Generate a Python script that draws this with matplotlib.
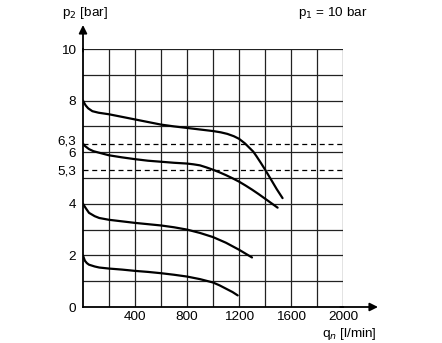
import numpy as np
import matplotlib
matplotlib.use("Agg")
import matplotlib.pyplot as plt
from matplotlib.transforms import ScaledTranslation

plt.rcParams['font.family'] = ['Liberation Sans', 'DejaVu Sans']

# flow characteristic curves, p1 = 10 bar, flow in l/min, p2 in bar
flow_8 = [0, 8, 21, 40, 72, 120, 200, 300, 400, 500, 600, 700, 800, 900, 1000, 1060,
          1110, 1160, 1200, 1246, 1284, 1310, 1335, 1370, 1400, 1425, 1450, 1490, 1535]
p2_8 = [8.0, 7.92, 7.81, 7.7, 7.59, 7.53, 7.47, 7.37, 7.27, 7.17, 7.07, 7.0, 6.94, 6.88, 6.82, 6.77,
        6.71, 6.62, 6.52, 6.34, 6.15, 6.02, 5.84, 5.57, 5.33, 5.12, 4.91, 4.57, 4.22]

flow_63 = [0, 15, 46, 80, 124, 200, 300, 400, 500, 600, 700, 800, 850, 900, 950, 1000,
           1050, 1100, 1150, 1200, 1250, 1300, 1350, 1400, 1450, 1497]
p2_63 = [6.33, 6.24, 6.12, 6.04, 5.98, 5.88, 5.8, 5.73, 5.67, 5.63, 5.59, 5.56, 5.53, 5.49, 5.41, 5.32,
         5.22, 5.11, 4.99, 4.86, 4.71, 4.55, 4.38, 4.2, 4.02, 3.85]

flow_4 = [0, 10, 20, 46, 90, 125, 200, 300, 400, 500, 600, 700, 800, 900, 1000, 1100, 1200, 1250, 1300]
p2_4 = [4.0, 3.92, 3.84, 3.65, 3.52, 3.45, 3.38, 3.32, 3.26, 3.21, 3.16, 3.09, 3.0, 2.87, 2.71, 2.49, 2.22, 2.07, 1.92]

flow_2 = [0, 8, 15, 30, 46, 90, 125, 200, 300, 400, 500, 600, 700, 800, 900, 1000, 1050, 1100, 1150, 1190]
p2_2 = [2.0, 1.88, 1.79, 1.7, 1.64, 1.57, 1.53, 1.49, 1.45, 1.4, 1.36, 1.31, 1.25, 1.18, 1.08, 0.95, 0.84, 0.71, 0.58, 0.45]

ref_lines = [6.3, 5.3]

x_ticks = [400, 800, 1200, 1600, 2000]
y_ticks = [0, 2, 4, 5.3, 6, 6.3, 8, 10]
y_labels = ['0', '2', '4', '5,3', '6', '6,3', '8', '10']

W, H = 442, 343
fig = plt.figure(figsize=(W / 100, H / 100), dpi=100)
x0, x1, y0, y1 = 83, 343, 49, 307
ax = fig.add_axes([x0 / W, 1 - y1 / H, (x1 - x0) / W, (y1 - y0) / H])
ax.set_xlim(0, 2000)
ax.set_ylim(0, 10)

for s in ['top', 'right']:
    ax.spines[s].set_visible(False)
for s in ['left', 'bottom']:
    ax.spines[s].set_linewidth(1.3)
    ax.spines[s].set_color('black')

# grid
for gx in np.arange(200, 2001, 200):
    ax.axvline(gx, color='#222222', lw=0.9, zorder=1)
for gy in np.arange(1, 11, 1):
    ax.axhline(gy, color='#222222', lw=0.9, zorder=1)
for r in ref_lines:
    ax.axhline(r, color='black', lw=0.9, ls=(0, (4, 3)), zorder=1)

for fx, py in [(flow_8, p2_8), (flow_63, p2_63), (flow_4, p2_4), (flow_2, p2_2)]:
    ax.plot(fx, py, color='black', lw=1.6, solid_capstyle='round',
            solid_joinstyle='round', zorder=3)

fs = 9.7
ax.set_xticks(x_ticks)
ax.set_yticks(y_ticks)
ax.set_yticklabels(y_labels)
ax.tick_params(length=0, labelsize=fs, colors='black')
ax.tick_params(axis='x', pad=3)
ax.tick_params(axis='y', pad=5)

# lift "6,3" a little so it clears "6"
for lab in ax.get_yticklabels():
    if lab.get_text() == '6,3':
        lab.set_transform(lab.get_transform() + ScaledTranslation(0, 3 / 72, fig.dpi_scale_trans))

# axis arrows
ax.annotate('', xy=(0, 1 + 24 / 258), xytext=(0, 0.99), xycoords='axes fraction',
            arrowprops=dict(arrowstyle='-|>', color='black', lw=1.3,
                            mutation_scale=12, shrinkA=0, shrinkB=0))
ax.annotate('', xy=(1 + 35 / 260, 0), xytext=(0.99, 0), xycoords='axes fraction',
            arrowprops=dict(arrowstyle='-|>', color='black', lw=1.3,
                            mutation_scale=12, shrinkA=0, shrinkB=0))

fig.text(62 / W, 1 - 13 / H, 'p$_2$ [bar]', fontsize=fs, va='center', ha='left')
fig.text(298 / W, 1 - 13 / H, 'p$_1$ = 10 bar', fontsize=fs, va='center', ha='left')
fig.text(377 / W, 1 - 334 / H, 'q$_n$ [l/min]', fontsize=fs, va='center', ha='right')

fig.savefig('out.png', dpi=100)
